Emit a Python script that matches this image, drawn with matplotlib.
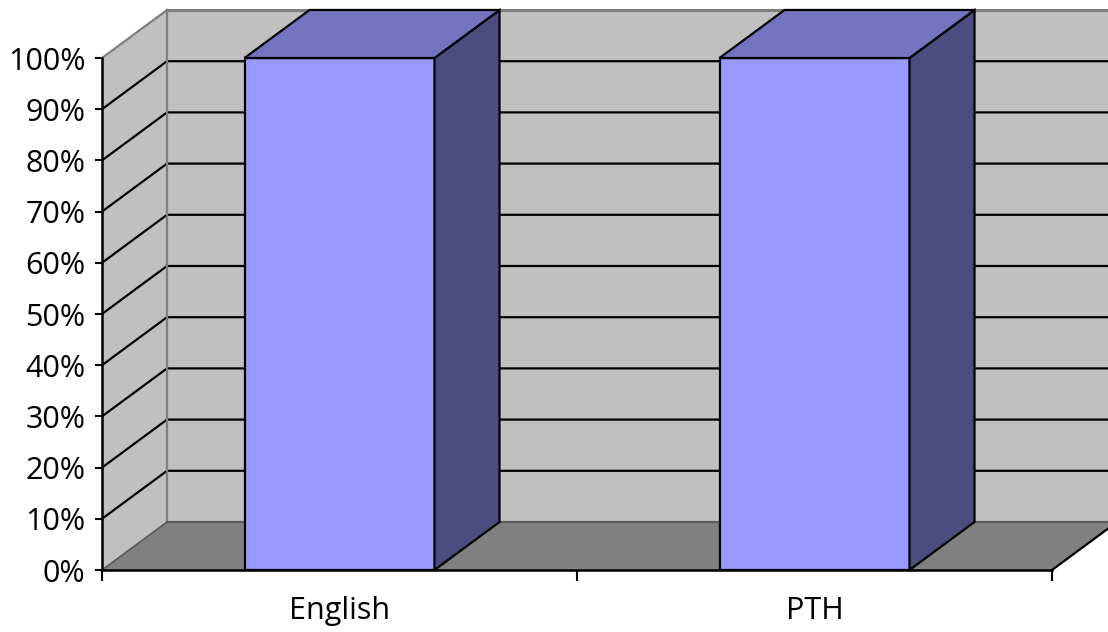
import matplotlib
matplotlib.use("Agg")
import matplotlib.pyplot as plt
from matplotlib.patches import Polygon
from matplotlib.ticker import FixedLocator, NullFormatter, FixedFormatter

# Data
categories = ["English", "PTH"]
values = [100, 100]  # percent
y_ticks = list(range(0, 101, 10))
y_tick_labels = [f"{v}%" for v in y_ticks]

# Style
FONT = "Open Sans"
WALL = "#c0c0c0"
FLOOR = "#808080"
EDGE_GRAY = "#7f7f7f"
BAR_FRONT = "#9999ff"
BAR_TOP = "#7373bf"
BAR_SIDE = "#4c4c80"
DEPTH_PX = (65, 48)  # 3-D depth offset in pixels (right, up)
BAR_WIDTH = 0.4

W, H, DPI = 1108, 632, 100
fig = plt.figure(figsize=(W / DPI, H / DPI), dpi=DPI)
ax = fig.add_axes([102 / W, 62 / H, 950 / W, 512 / H])
n = len(categories)
ax.set_xlim(0, n)
ax.set_ylim(0, 100)

# depth offset expressed in data units
dx = DEPTH_PX[0] * (n / 950)
dy = DEPTH_PX[1] * (100 / 512)


def poly(pts, fc, ec="none", lw=0.0, z=1):
    p = Polygon(pts, closed=True, facecolor=fc, edgecolor=ec, linewidth=lw,
                zorder=z, clip_on=False, joinstyle="miter")
    ax.add_patch(p)


x_far = n + dx + 1.0
# back wall
poly([(dx, dy), (dx, 100 + dy), (x_far, 100 + dy), (x_far, dy)], WALL, z=1)
# side wall
poly([(0, 0), (0, 100), (dx, 100 + dy), (dx, dy)], WALL, z=1)
# floor
poly([(0, 0), (dx, dy), (n + dx, dy), (n, 0)], FLOOR, z=2)

# wall borders
ax.plot([0, dx], [100, 100 + dy], color=EDGE_GRAY, lw=1.6, zorder=3, clip_on=False)
ax.plot([dx, x_far], [100 + dy, 100 + dy], color=EDGE_GRAY, lw=2.2, zorder=3, clip_on=False)
ax.plot([dx, dx], [dy, 100 + dy], color=EDGE_GRAY, lw=1.6, zorder=3, clip_on=False)
ax.plot([0, dx], [0, dy], color="#5a5a5a", lw=1.2, zorder=3, clip_on=False)
ax.plot([dx, x_far], [dy, dy], color="#5a5a5a", lw=1.6, zorder=3, clip_on=False)
ax.plot([n, n + dx], [0, dy], color="black", lw=1.6, zorder=3, clip_on=False)

# gridlines on side and back walls
for v in y_ticks[1:-1]:
    ax.plot([0, dx, x_far], [v, v + dy, v + dy], color="black", lw=1.6,
            zorder=2.5, clip_on=False, solid_joinstyle="miter")

# bars
for i, v in enumerate(values):
    c = i + 0.5
    x0, x1 = c - BAR_WIDTH / 2, c + BAR_WIDTH / 2
    poly([(x0, 0), (x0, v), (x1, v), (x1, 0)], BAR_FRONT, "black", 1.6, z=5)
    poly([(x1, 0), (x1, v), (x1 + dx, v + dy), (x1 + dx, dy)], BAR_SIDE, "black", 1.6, z=5)
    poly([(x0, v), (x0 + dx, v + dy), (x1 + dx, v + dy), (x1, v)], BAR_TOP, "black", 1.6, z=5)

# axes lines
for s in ["top", "right"]:
    ax.spines[s].set_visible(False)
for s in ["left", "bottom"]:
    ax.spines[s].set_linewidth(1.8)
    ax.spines[s].set_zorder(6)
ax.patch.set_visible(False)

ax.set_yticks(y_ticks)
ax.set_yticklabels(y_tick_labels, fontsize=22, fontfamily=FONT)
ax.tick_params(axis="y", direction="out", length=5, width=1.5, pad=7)

ax.xaxis.set_major_locator(FixedLocator(list(range(n + 1))))
ax.xaxis.set_major_formatter(NullFormatter())
ax.xaxis.set_minor_locator(FixedLocator([i + 0.5 for i in range(n)]))
ax.xaxis.set_minor_formatter(FixedFormatter(categories))
ax.tick_params(axis="x", which="major", direction="out", length=8, width=1.5)
ax.tick_params(axis="x", which="minor", length=0, pad=19, labelsize=22)
for lbl in ax.get_xticklabels(minor=True):
    lbl.set_fontfamily(FONT)

fig.savefig("out.png", dpi=DPI)
